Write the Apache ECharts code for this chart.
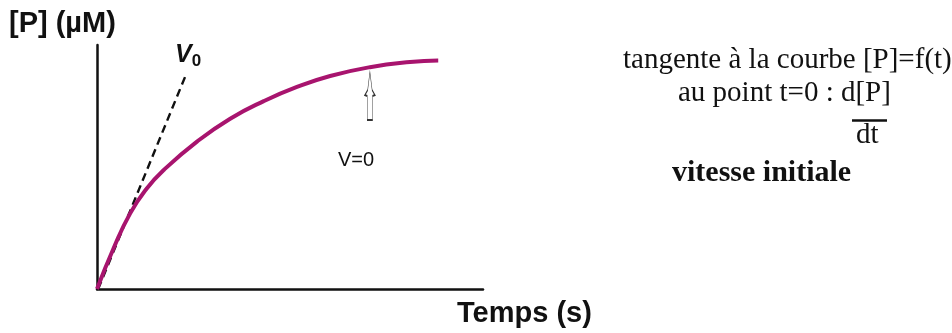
<!DOCTYPE html>
<html><head><meta charset="utf-8">
<script src="https://cdn.jsdelivr.net/npm/echarts@6/dist/echarts.min.js"></script>
<style>html,body{margin:0;padding:0;background:#fff}#c{width:952px;height:333px}</style>
</head><body><div id="c"></div>
<script>
// Data (arbitrary units)
const curveX = [0, 4.3, 8.6, 12.95, 17.3, 25.9, 34.5, 43.2, 51.8, 60.4, 70.7, 81.1, 88.4];
const curveY = [0, 16.7, 31.0, 41.3, 48.8, 60.4, 69.8, 77.0, 82.8, 87.3, 90.9, 93.0, 93.6];
const tangentX = [0.3, 23.2];
const tangentY = [0, 88.4];
const arrowAt = [70.7, 79.1];
const xAxisName = 'Temps (s)';
const yAxisName = '[P] (\u00b5M)';

const chart = echarts.init(document.getElementById('c'), null, {renderer: 'canvas'});
const arrowPath = 'path://M5,0 L7,18 L9.5,23 L7.4,24 L7.4,48 L2.6,48 L2.6,24 L0.5,23 L3,18 Z';
const serif = '"Liberation Serif", "Times New Roman", serif';
const sans = '"Liberation Sans", Arial, sans-serif';
chart.setOption({
  animation: false,
  grid: {left: 97, top: 45, width: 386, height: 244, containLabel: false},
  xAxis: {type: 'value', min: 0, max: 100, interval: 50,
    axisLine: {show: true, lineStyle: {color: '#111', width: 2.5}},
    axisTick: {show: false}, axisLabel: {show: false}, splitLine: {show: false}},
  yAxis: {type: 'value', min: 0, max: 100, interval: 50,
    axisLine: {show: true, lineStyle: {color: '#111', width: 2.5}},
    axisTick: {show: false}, axisLabel: {show: false}, splitLine: {show: false}},
  series: [
    {type: 'line', data: tangentX.map((x, i) => [x, tangentY[i]]), symbol: 'none',
     lineStyle: {color: '#111', width: 2.4, type: [8, 5]}, z: 2},
    {type: 'line', data: curveX.map((x, i) => [x, curveY[i]]), symbol: 'none', smooth: 0.5,
     lineStyle: {color: '#a8146e', width: 4}, z: 3,
     markPoint: {symbol: arrowPath, symbolSize: [10, 48], symbolKeepAspect: false,
       itemStyle: {color: '#fff', borderColor: '#333', borderWidth: 1},
       label: {show: false},
       data: [{coord: arrowAt}]}}
  ],
  graphic: [
    {type: 'text', left: 9, top: 9, style: {text: yAxisName, font: 'bold 29px ' + sans, fill: '#111'}},
    {type: 'text', left: 457, top: 299, style: {text: xAxisName, font: 'bold 29px ' + sans, fill: '#111'}},
    {type: 'text', left: 175, top: 43, style: {text: '{v|V}{s|0}', rich: {
      v: {font: 'italic bold 25px ' + sans, fill: '#111'},
      s: {font: 'bold 17px ' + sans, fill: '#111', padding: [12, 0, 0, 0]}}}},
    {type: 'text', left: 338, top: 150, style: {text: 'V=0', font: '20px ' + sans, fill: '#111'}},
    {type: 'text', left: 623, top: 46, style: {text: 'tangente \u00e0 la courbe [P]=f(t)', font: '29px ' + serif, fill: '#111'}},
    {type: 'text', left: 678, top: 79, style: {text: 'au point t=0 : d[P]', font: '29px ' + serif, fill: '#111'}},
    {type: 'line', shape: {x1: 852, y1: 120.5, x2: 887, y2: 120.5}, style: {stroke: '#111', lineWidth: 2.5}},
    {type: 'text', left: 856, top: 121, style: {text: 'dt', font: '29px ' + serif, fill: '#111'}},
    {type: 'text', left: 672, top: 158, style: {text: 'vitesse initiale', font: 'bold 30px ' + serif, fill: '#111'}}
  ]
});
</script></body></html>
